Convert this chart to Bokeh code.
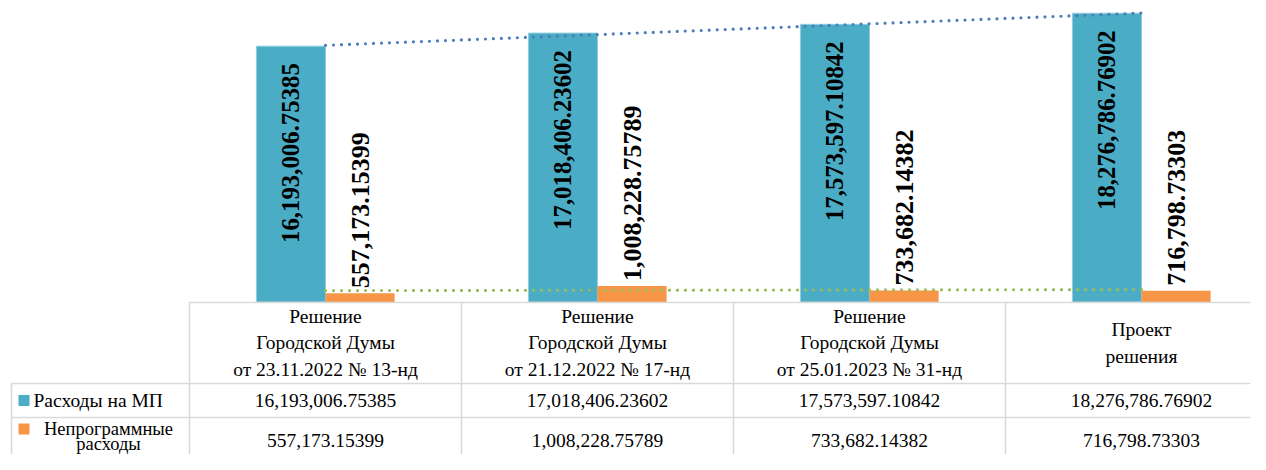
import numpy as np
from bokeh.plotting import figure
from bokeh.models import Range1d
from bokeh.core.properties import value
from bokeh.embed import file_html
from bokeh.resources import INLINE

# ---------------- data ----------------
categories = [
    "Решение\nГородской Думы\nот 23.11.2022 № 13-нд",
    "Решение\nГородской Думы\nот 21.12.2022 № 17-нд",
    "Решение\nГородской Думы\nот 25.01.2023 № 31-нд",
    "Проект\nрешения",
]
series_names = ["Расходы на МП", "Непрограммные\nрасходы"]
mp_values = [16193006.75385, 17018406.23602, 17573597.10842, 18276786.76902]
np_values = [557173.15399, 1008228.75789, 733682.14382, 716798.73303]
series_colors = ["#4BACC6", "#F79646"]
trend_colors = ["#4A7EBB", "#9BBB59"]

# ---------------- layout ----------------
W, H = 1250, 454
CAT_PX = 272             # pixels per category
CAT0_X = 189             # x of first category edge
BASE_Y = 301.5           # y of bar baseline
PX_PER_VAL = 15.8e-6     # pixels per unit value
BAR_W = 0.254

FONT = value("Liberation Serif, Times New Roman, serif")

x_range = Range1d(-CAT0_X / CAT_PX, (W - CAT0_X) / CAT_PX)
y_range = Range1d(-(H - BASE_Y) / PX_PER_VAL, BASE_Y / PX_PER_VAL)

p = figure(width=W, height=H, x_range=x_range, y_range=y_range,
           output_backend="svg", toolbar_location=None,
           min_border=0, outline_line_color=None)
p.axis.visible = False
p.grid.visible = False
p.background_fill_color = "white"
p.border_fill_color = "white"
p.extra_x_ranges = {"px": Range1d(0, W)}
p.extra_y_ranges = {"py": Range1d(H, 0)}

idx = np.arange(len(categories))
centers = idx + 0.5
x_mp = centers - BAR_W / 2
x_np = centers + BAR_W / 2

# bars
p.vbar(x=x_mp, top=mp_values, bottom=0, width=BAR_W,
       fill_color=series_colors[0], line_color="#8FCFE0", line_width=1)
p.vbar(x=x_np, top=np_values, bottom=0, width=BAR_W,
       fill_color=series_colors[1], line_color=None)

# linear trendlines
for vals, col in [(mp_values, trend_colors[0]), (np_values, trend_colors[1])]:
    coef = np.polyfit(idx, vals, 1)
    xs = [centers[0], centers[-1]]
    ys = list(np.polyval(coef, [idx[0], idx[-1]]))
    p.line(xs, ys, line_color=col, line_width=3.2, line_dash="0 8",
           line_cap="round")

# data labels
fmt = lambda v: "{:,.5f}".format(v)
p.text(x=x_mp, y=mp_values, text=[fmt(v) for v in mp_values],
       angle=np.pi / 2, text_align="right", text_baseline="middle",
       y_offset=17, text_font=FONT, text_font_style="bold",
       text_font_size="24.8px", text_color="black")
p.text(x=x_np, y=np_values, text=[fmt(v) for v in np_values],
       angle=np.pi / 2, text_align="left", text_baseline="middle",
       y_offset=-5, text_font=FONT, text_font_style="bold",
       text_font_size="26px", text_color="black")

# ---------------- data table ----------------
GRID = "#D9D9D9"
TOP_Y, ROW1_Y, ROW2_Y, END_Y = 302, 383, 417, H + 20
LEFT_X = 11
RIGHT_X = W + 10

p.segment(x0=[CAT0_X, LEFT_X, LEFT_X], y0=[TOP_Y, ROW1_Y, ROW2_Y],
          x1=[RIGHT_X] * 3, y1=[TOP_Y, ROW1_Y, ROW2_Y],
          line_color=GRID, line_width=1.6, x_range_name="px", y_range_name="py")
p.segment(x0=list(idx), y0=[TOP_Y] * len(idx), x1=list(idx), y1=[END_Y] * len(idx),
          line_color=GRID, line_width=1.6, y_range_name="py")
p.segment(x0=[LEFT_X], y0=[ROW1_Y], x1=[LEFT_X], y1=[END_Y],
          line_color=GRID, line_width=1.6, x_range_name="px", y_range_name="py")

TFS = "19.5px"
p.text(x=centers, y=[(TOP_Y + ROW1_Y) / 2] * len(idx), text=categories,
       text_align="center", text_baseline="middle", text_line_height=1.28,
       text_font=FONT, text_font_size=TFS, text_color="black", y_range_name="py")
p.text(x=centers, y=[400] * len(idx), text=[fmt(v) for v in mp_values],
       text_align="center", text_baseline="middle",
       text_font=FONT, text_font_size=TFS, text_color="black", y_range_name="py")
p.text(x=centers, y=[440] * len(idx), text=[fmt(v) for v in np_values],
       text_align="center", text_baseline="middle",
       text_font=FONT, text_font_size=TFS, text_color="black", y_range_name="py")

# legend keys and row names
p.scatter(x=[23.5, 23.5], y=[400, 428.5], marker="square", size=11,
          fill_color=series_colors, line_color=None,
          x_range_name="px", y_range_name="py")
p.text(x=[33], y=[400], text=[series_names[0]], text_align="left",
       text_baseline="middle", text_font=FONT, text_font_size=TFS,
       text_color="black", x_range_name="px", y_range_name="py")
name2_lines = series_names[1].split("\n")
p.text(x=[108] * len(name2_lines), y=[428, 443][:len(name2_lines)], text=name2_lines,
       text_align="center", text_baseline="middle", text_font=FONT,
       text_font_size="18.5px", text_color="black",
       x_range_name="px", y_range_name="py")

open("out.html", "w").write(file_html(p, INLINE))
